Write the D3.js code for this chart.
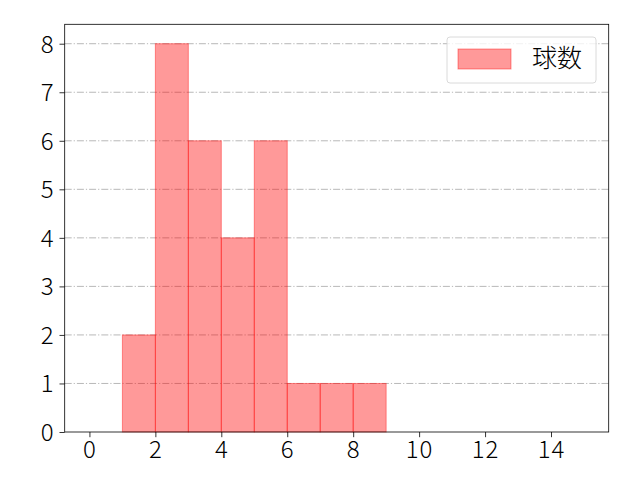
<!DOCTYPE html>
<html><head><meta charset="utf-8">
<script src="https://cdn.jsdelivr.net/npm/d3@7"></script>
<style>body{margin:0;background:#fff}svg{display:block}</style>
</head><body>
<script>
const binStarts = [1, 2, 3, 4, 5, 6, 7, 8];
const binWidth = 1;
const counts = [2, 8, 6, 4, 6, 1, 1, 1];
const xTicks = [0, 2, 4, 6, 8, 10, 12, 14];
const yTicks = [0, 1, 2, 3, 4, 5, 6, 7, 8];
const seriesName = "球数";

const W = 640, H = 480;
const L = 64.7, R = 608.7, T = 24.3, B = 432;
const font = "'Noto Sans CJK JP', 'Noto Sans', sans-serif";
const fs = 24;

const svg = d3.select("body").append("svg").attr("width", W).attr("height", H);
const x = d3.scaleLinear().domain([-0.75, 15.75]).range([L, R]);
const y = d3.scaleLinear().domain([0, 8.4]).range([B, T]);

// grid
svg.append("g").selectAll("line").data(yTicks.filter(d => d > 0)).join("line")
  .attr("x1", L).attr("x2", R).attr("y1", d => y(d)).attr("y2", d => y(d))
  .attr("stroke", "#b0b0b0").attr("stroke-width", 0.9)
  .attr("stroke-dasharray", "7,2,1.2,2");

// bars
svg.append("g").selectAll("rect").data(binStarts).join("rect")
  .attr("x", d => x(d)).attr("width", d => x(d + binWidth) - x(d))
  .attr("y", (d, i) => y(counts[i])).attr("height", (d, i) => y(0) - y(counts[i]))
  .attr("fill", "rgba(255,0,0,0.4)").attr("stroke", "rgba(255,0,0,0.4)").attr("stroke-width", 1);

// axes
const xAxis = d3.axisBottom(x).tickValues(xTicks).tickSize(5.2).tickPadding(4);
const yAxis = d3.axisLeft(y).tickValues(yTicks).tickSize(5.2).tickPadding(5);
const gx = svg.append("g").attr("transform", `translate(0,${B})`).call(xAxis);
const gy = svg.append("g").attr("transform", `translate(${L},0)`).call(yAxis);
[gx, gy].forEach(g => {
  g.select(".domain").remove();
  g.selectAll("line").attr("stroke", "#000").attr("stroke-width", 0.8);
  g.selectAll("text").attr("font-family", font).attr("font-size", fs)
    .attr("font-weight", 300).attr("letter-spacing", 1).attr("fill", "#000");
});
gx.selectAll("text").attr("dy", "0.7em");
gy.selectAll("text").attr("dy", "0.35em");

// frame
svg.append("rect").attr("x", L).attr("y", T).attr("width", R - L).attr("height", B - T)
  .attr("fill", "none").attr("stroke", "#000").attr("stroke-width", 0.8);

// legend
const lg = svg.append("g");
lg.append("rect").attr("x", 447).attr("y", 37).attr("width", 149).attr("height", 46).attr("rx", 3)
  .attr("fill", "rgba(255,255,255,0.8)").attr("stroke", "#d0d0d0").attr("stroke-width", 0.8);
lg.append("rect").attr("x", 458).attr("y", 49).attr("width", 53).attr("height", 20)
  .attr("fill", "rgba(255,0,0,0.4)").attr("stroke", "rgba(255,0,0,0.4)").attr("stroke-width", 1);
lg.append("text").attr("x", 532).attr("y", 58).attr("dy", "0.36em")
  .attr("font-family", font).attr("font-size", 25).attr("font-weight", 300)
  .attr("fill", "#000").text(seriesName);
</script>
</body></html>
